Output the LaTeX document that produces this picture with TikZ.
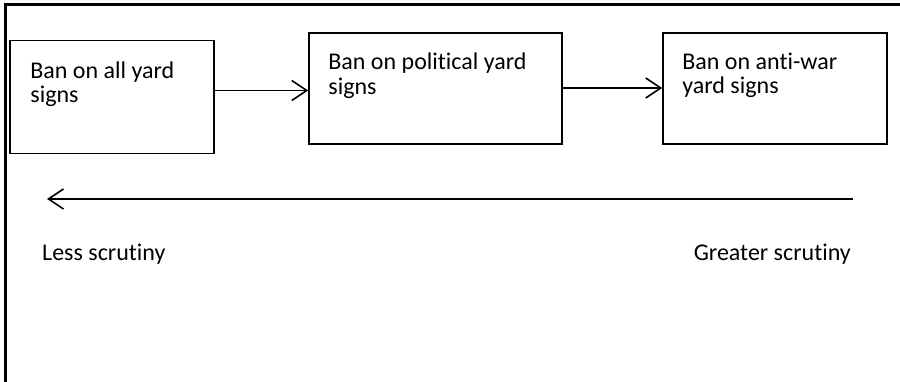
\documentclass[tikz,border=0pt]{standalone}
\usepackage{fontspec}
\setmainfont[Ligatures = NoCommon]{Carlito}
\usetikzlibrary{arrows.meta}
\usetikzlibrary{positioning}

\begin{document}
\begin{tikzpicture}[x = 1pt, y = -1pt,
  box/.style = {draw, line width = 1.6pt, inner sep = 0pt},
  boxtext/.style = {align = left, inner sep = 0pt,
    font = \fontsize{24}{24.5}\selectfont},
  flow/.style = {line width = 1.6pt,
    -{Straight Barb[length = 15pt, width = 20pt, line width = 1.6pt]}}]
  \useasboundingbox (0, 0) rectangle (900, 382);

  % frame
  \draw[line width = 3pt] (5, 382) -- (5, 5) -- (900, 5);

  \node[box, minimum width = 204pt, minimum height = 113pt] (all) at (112, 97) {};
  \node[box, minimum width = 253pt, minimum height = 111pt] (pol) at (435.5, 88.5) {};
  \node[box, minimum width = 224pt, minimum height = 111pt] (war) at (775, 88.5) {};

  \node[boxtext, below right = 21.5pt and 21pt of all.north west] (allt)
    {Ban on all yard\\signs};
  \node[boxtext, below right = 20.5pt and 20pt of pol.north west] (polt)
    {Ban on political yard\\signs};
  \node[boxtext, below right = 20.5pt and 20pt of war.north west] (wart)
    {Ban on anti-war\\yard signs};

  \draw[flow] ([yshift = 6.5pt]all.east) -- ([yshift = 6.5pt]all.east -| pol.west);
  \draw[flow] ([yshift = 0.5pt]pol.east) -- ([yshift = 0.5pt]pol.east -| war.west);

  % scrutiny scale
  \coordinate (hi) at (853, 199);
  \coordinate (lo) at (47, 199);
  \draw[flow] (hi) -- (lo);

  \node[boxtext, anchor = base west] (less) at (42, 261) {Less scrutiny};
  \node[boxtext, anchor = base east] (more) at (851, 261) {Greater scrutiny};
\end{tikzpicture}
\end{document}
